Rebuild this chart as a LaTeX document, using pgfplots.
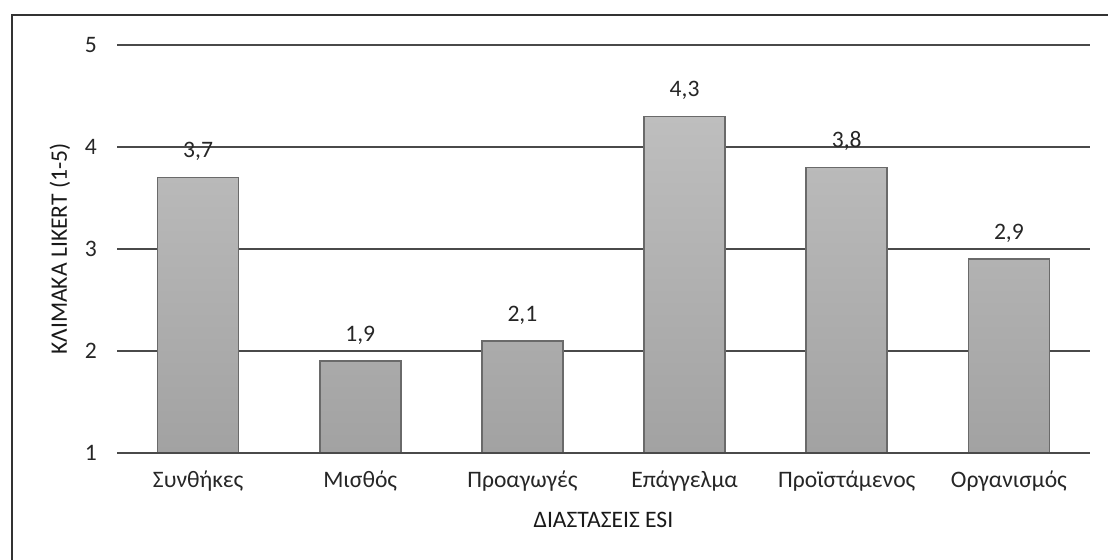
\documentclass[border=0pt]{standalone}
\usepackage{pgfplots}
\pgfplotsset{compat=1.18}
\usepackage{fontspec}
\setmainfont{Carlito}

\definecolor{gridc}{HTML}{4A4A4A}
\definecolor{barTop}{HTML}{BEBEBE}
\definecolor{barBot}{HTML}{A2A2A2}
\definecolor{barEdge}{HTML}{6A6A6A}

\begin{document}
\fontsize{11.8}{14}\selectfont
\begin{tikzpicture}
  % picture is 554pt x 280pt (1px = 0.5pt)
  \useasboundingbox (0,0) rectangle (554pt,280pt);
  \draw[line width=1.4pt, color=black!80] (6pt,-2pt) -- (6pt,272.5pt) -- (560pt,272.5pt);

  \begin{axis}[
      at={(58.5pt,53.5pt)}, anchor=south west,
      width=486.5pt, height=204pt, scale only axis,
      xmin=-0.5, xmax=5.5,
      ymin=1, ymax=5,
      ytick={1,2,3,4,5},
      xtick={0,1,2,3,4,5},
      xticklabels={Συνθήκες,Μισθός,Προαγωγές,Επάγγελμα,Προϊστάμενος,Οργανισμός},
      axis line style={draw=none},
      major tick length=0pt,
      ymajorgrids,
      grid style={gridc, line width=1pt},
      yticklabel style={xshift=-6pt, text=black!85},
      xticklabel style={yshift=-5pt, text=black!85},
      /pgf/number format/assume math mode=true,
      xlabel={ΔΙΑΣΤΑΣΕΙΣ ESI},
      xlabel style={at={(axis description cs:0.5,-0.164)}, anchor=center, text=black!90},
      ylabel={ΚΛΙΜΑΚΑ LIKERT (1-5)},
      ylabel style={at={(axis description cs:-0.0586,0.5)}, anchor=center, text=black!90},
      nodes near coords,
      nodes near coords style={yshift=4pt, text=black!85,
        /pgf/number format/.cd, fixed, fixed zerofill, precision=1, use comma, assume math mode=true},
    ]
    \addplot[ybar, bar width=40.5pt, draw=barEdge, line width=0.8pt,
             top color=barTop, bottom color=barBot]
      coordinates {(0,3.7) (1,1.9) (2,2.1) (3,4.3) (4,3.8) (5,2.9)};
    \draw[gridc, line width=1pt] (rel axis cs:0,0) -- (rel axis cs:1,0);
  \end{axis}
\end{tikzpicture}
\end{document}
